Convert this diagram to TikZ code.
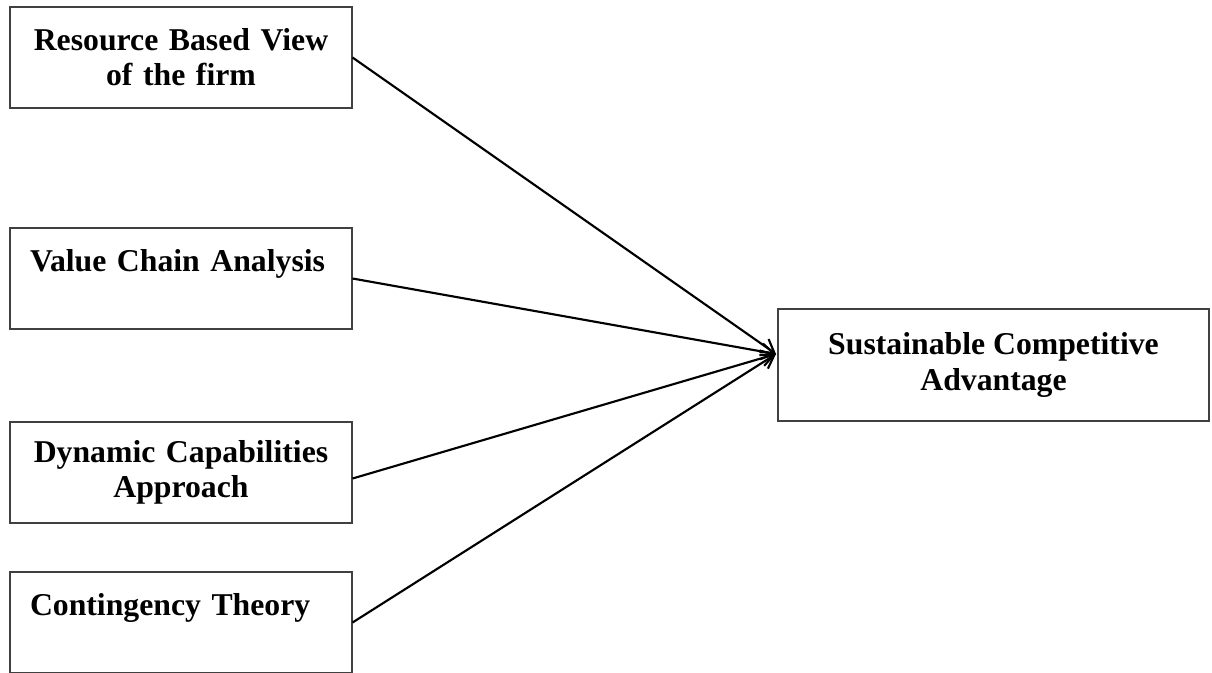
\documentclass[tikz,border=0pt]{standalone}
\usepackage{fontspec}
\setmainfont{Liberation Serif}
\usetikzlibrary{arrows.meta}
\begin{document}
\begin{tikzpicture}[x=0.75pt,y=-0.75pt,
  box/.style={draw=black!75,line width=0.8pt,minimum height=75.75pt,inner xsep=15pt,inner ysep=0pt,
    text width=226.5pt,font=\fontsize{23.8pt}{26.3pt}\selectfont\bfseries},
  rbox/.style={draw=black!75,line width=0.8pt,minimum height=84pt,minimum width=323.25pt,align=center,
    font=\fontsize{23.8pt}{26.3pt}\selectfont\bfseries},
  link/.style={line width=1.6pt,-{Straight Barb[length=9.5pt,width=12pt,line width=1.6pt]}}]
\useasboundingbox (0,0) rectangle (1212,672);
\clip (0,0) rectangle (1212,672);
\fill[white] (0,0) rectangle (1212,672);
\node[box,align=center] (b1) at (181,57.5) {Resource Based View\\of the firm};
\node[box,align=left] (b2) at (181,278.5) {Value Chain Analysis\\\mbox{}};
\node[box,align=center] (b3) at (181,472.5) {Dynamic Capabilities\\Approach};
\node[box,align=left] (b4) at (181,622.5) {Contingency Theory\\\mbox{}};
\node[rbox] (sca) at (993.5,365) {Sustainable Competitive\\Advantage};
\coordinate (tip) at (776,354);
\draw[link] (b1.east) -- (tip);
\draw[link] (b2.east) -- (tip);
\draw[link] ([yshift=-4.5pt]b3.east) -- (tip);
\draw[link] (b4.east) -- (tip);
\end{tikzpicture}
\end{document}
